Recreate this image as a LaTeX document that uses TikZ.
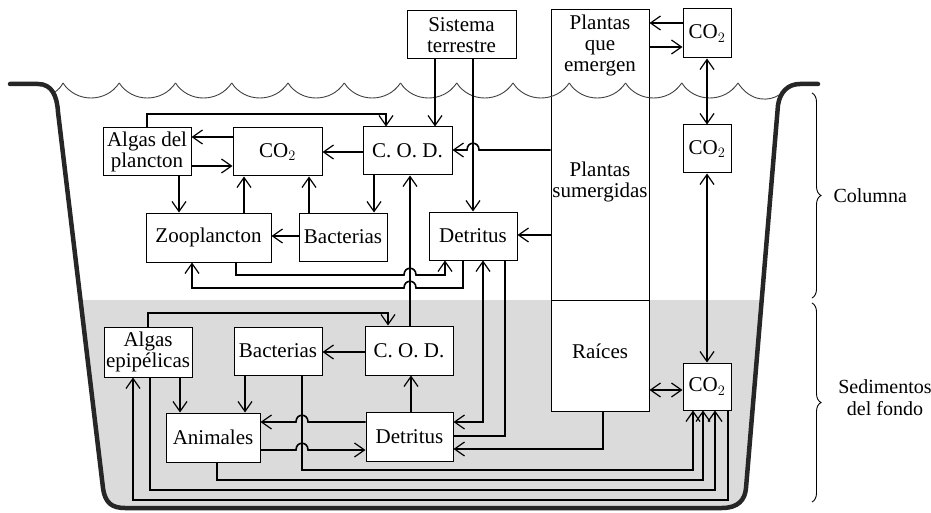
\documentclass[tikz,border=0pt]{standalone}
\usepackage{fontspec}
\setmainfont{Liberation Serif}
\usetikzlibrary{arrows.meta, decorations.pathreplacing}

% small hop of a line over another one (x of the crossing, y of the line)
\newcommand{\jumpR}[2]{-- (#1-6,#2) .. controls (#1-6,#2-9) and (#1+6,#2-9) .. (#1+6,#2)}
\newcommand{\jumpL}[2]{-- (#1+6,#2) .. controls (#1+6,#2-9) and (#1-6,#2-9) .. (#1-6,#2)}

\begin{document}
\begin{tikzpicture}[
    x=1pt, y=-1pt,
    every node/.style={font=\fontsize{21}{21}\selectfont},
    box/.style={rectangle, draw, line width=1pt, fill=white, inner sep=0pt, align=center},
    flow/.style={line width=1.6pt, -{Straight Barb[length=10pt,width=14pt,line width=1.2pt]}},
    both/.style={line width=1.6pt, {Straight Barb[length=10pt,width=14pt,line width=1.2pt]}-{Straight Barb[length=10pt,width=14pt,line width=1.2pt]}},
    link/.style={line width=1.6pt},
    wall/.style={line width=4.5pt, line cap=round, line join=round, black!85},
    wave/.style={line width=0.9pt, black!75},
    sed/.style={fill=black!14},
    curly/.style={decorate, decoration={brace, amplitude=9pt}, line width=0.9pt},
    side/.style={font=\fontsize{20}{22}\selectfont, align=center}
  ]
  \useasboundingbox (0,0) rectangle (931,513);

  % sedimentos
  \begin{scope}
    \clip (0,300) rectangle (931,513);
    \fill[sed] (58,112) -- (103,488) .. controls (105,503) and (112,508) .. (125,508)
      -- (722,508) .. controls (738,508) and (745,500) .. (746,488) -- (778,105) -- cycle;
  \end{scope}
  \draw[wall] (10,84) -- (38,84) .. controls (52,84) and (57,96) .. (58,112)
    -- (103,488) .. controls (105,503) and (112,508) .. (125,508)
    -- (722,508) .. controls (738,508) and (745,500) .. (746,488)
    -- (778,105) .. controls (780,92) and (788,84) .. (800,84) -- (818,84);

  % cajas
  \node[box, minimum width=98pt, minimum height=401pt] (plantas) at (600,210.5) {};
  \node at (600,45) [align=center] {Plantas\\que\\emergen};
  \node at (600,182) [align=center] {Plantas\\sumergidas};
  \node at (600,351) {Raíces};
  \draw[line width=1pt] (plantas.west |- 0,300) -- (plantas.east |- 0,300);

  \node[box, minimum width=109pt, minimum height=48pt] (sistema) at (461.5,35) {Sistema\\terrestre};
  \node[box, minimum width=48pt, minimum height=49pt] (co2E) at (707,33.5) {CO$_2$};
  \node[box, minimum width=48pt, minimum height=48pt] (co2C) at (707,149) {CO$_2$};
  \node[box, minimum width=48pt, minimum height=47pt] (co2S) at (707,386.5) {CO$_2$};

  \node[box, minimum width=88pt, minimum height=48pt] (algasP) at (147,152) {Algas del\\plancton};
  \node[box, minimum width=89pt, minimum height=48pt] (co2P) at (277.5,152) {CO$_2$};
  \node[box, minimum width=89pt, minimum height=48pt] (codC) at (407.5,151) {C. O. D.};
  \node[box, minimum width=125pt, minimum height=49pt] (zoo) at (208.5,237.5) {Zooplancton};
  \node[box, minimum width=88pt, minimum height=48pt] (bactC) at (343,237) {Bacterias};
  \node[box, minimum width=88pt, minimum height=48pt] (detC) at (473,236) {Detritus};

  \node[box, minimum width=88pt, minimum height=50pt] (algasE) at (148,352) {Algas\\epipélicas};
  \node[box, minimum width=88pt, minimum height=48pt] (bactS) at (278,351) {Bacterias};
  \node[box, minimum width=88pt, minimum height=49pt] (codS) at (409,350.5) {C. O. D.};
  \node[box, minimum width=94pt, minimum height=49pt] (anim) at (213,437.5) {Animales};
  \node[box, minimum width=87pt, minimum height=49pt] (detS) at (409.5,436.5) {Detritus};

  % superficie del agua
  \draw[wave] (55,92) .. controls (58,90) and (61,87) .. (63,83);
  \foreach \i in {0,...,11}
    \draw[wave] ({63+56.25*\i},83) .. controls ({76+56.25*\i},103) and ({106+56.25*\i},103) .. ({63+56.25*(\i+1)},83);
  \draw[wave] (738,83) .. controls (751,103) and (770,101) .. (779,95);

  % columna de agua
  \draw[flow] (co2P.west |- 0,137) -- (algasP.east |- 0,137);
  \draw[flow] (algasP.east |- 0,166) -- (co2P.west |- 0,166);
  \draw[flow] (codC.west |- 0,152) -- (co2P.east |- 0,152);
  \draw[flow] (algasP.south -| 179,0) -- (zoo.north -| 179,0);
  \draw[flow] (zoo.north -| 244,0) -- (co2P.south -| 244,0);
  \draw[flow] (bactC.north -| 309,0) -- (co2P.south -| 309,0);
  \draw[flow] (bactC.west |- 0,236) -- (zoo.east |- 0,236);
  \draw[flow] (codC.south -| 374,0) -- (bactC.north -| 374,0);
  \draw[flow] (algasP.north) |- (386,114) -- (codC.north -| 386,0);
  \draw[flow] (sistema.south -| 435,0) -- (codC.north -| 435,0);
  \draw[flow] (sistema.south -| 473,0) -- (detC.north -| 473,0);
  \draw[flow] (plantas.west |- 0,150) \jumpL{473}{150} -- (codC.east |- 0,150);
  \draw[flow] (plantas.west |- 0,235) -- (detC.east |- 0,235);
  \draw[flow] (zoo.south -| 236,0) -- (236,275) \jumpR{410}{275} -| (detC.south -| 445,0);
  \draw[flow] (detC.south -| 463,0) -- (463,288) \jumpL{410}{288} -| (zoo.south -| 192,0);
  \draw[flow] (codS.north -| 410,0) -- (codC.south -| 410,0);
  \draw[both] (detC.south -| 483,0) |- (detS.east |- 0,422);
  \draw[link] (detS.east |- 0,436) -| (detC.south -| 505,0);

  % plantas
  \draw[flow] (co2E.west |- 0,23) -- (plantas.east |- 0,23);
  \draw[flow] (plantas.east |- 0,47) -- (co2E.west |- 0,47);
  \draw[both] (co2E) -- (co2C);
  \draw[both] (co2C) -- (co2S);
  \draw[both] (plantas.east |- 0,390) -- (co2S.west |- 0,390);
  \draw[flow] (plantas.south -| 603,0) |- (detS.east |- 0,449);

  % sedimentos
  \draw[flow] (algasE.north) |- (388,313) -- (codS.north -| 388,0);
  \draw[flow] (codS.west |- 0,352) -- (bactS.east |- 0,352);
  \draw[flow] (algasE.south -| 180,0) -- (anim.north -| 180,0);
  \draw[flow] (bactS.south -| 245,0) -- (anim.north -| 245,0);
  \draw[flow] (detS.west |- 0,422) \jumpL{302}{422} -- (anim.east |- 0,422);
  \draw[flow] (anim.east |- 0,450) \jumpR{302}{450} -- (detS.west |- 0,450);
  \draw[flow] (detS.north -| 411,0) -- (codS.south -| 411,0);
  \draw[flow] (bactS.south -| 302,0) |- (693,470) -- (co2S.south -| 693,0);
  \draw[flow] (anim.south -| 217,0) |- (703,480) -- (co2S.south -| 703,0);
  \draw[flow] (algasE.south -| 150,0) |- (715,490) -- (co2S.south -| 715,0);
  \draw[flow] (co2S.south -| 728,0) |- (133,500) -- (algasE.south -| 133,0);

  % llaves
  \draw[curly] (812,93) -- (812,298);
  \node[side, anchor=west] (columna) at (830,196) {Columna};
  \draw[curly] (812,303) -- (812,502);
  \node[side] (fondo) at (885,398) {Sedimentos\\del fondo};
\end{tikzpicture}
\end{document}
